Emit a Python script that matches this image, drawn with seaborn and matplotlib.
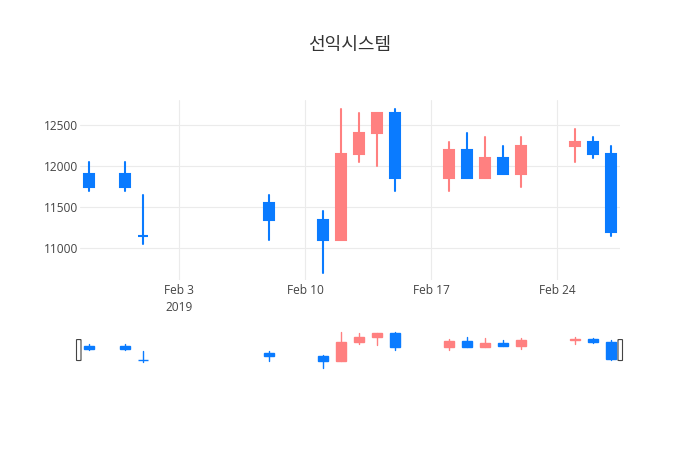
import pandas as pd
import matplotlib
matplotlib.use("Agg")
import matplotlib.pyplot as plt
from matplotlib.patches import FancyBboxPatch
import seaborn as sns

# candlestick data
dates = ["2019-01-29", "2019-01-31", "2019-02-01", "2019-02-08", "2019-02-11",
         "2019-02-12", "2019-02-13", "2019-02-14", "2019-02-15", "2019-02-18",
         "2019-02-19", "2019-02-20", "2019-02-21", "2019-02-22", "2019-02-25",
         "2019-02-26", "2019-02-27"]
opens  = [11900, 11900, 11150, 11550, 11350, 11100, 12150, 12400, 12650, 11850,
          12200, 11850, 12100, 11900, 12250, 12300, 12150]
highs  = [12050, 12050, 11650, 11650, 11450, 12700, 12650, 12650, 12700, 12300,
          12400, 12350, 12250, 12350, 12450, 12350, 12250]
lows   = [11700, 11700, 11050, 11100, 10700, 11100, 12050, 12000, 11700, 11700,
          11850, 11850, 11900, 11750, 12050, 12100, 11150]
closes = [11750, 11750, 11150, 11350, 11100, 12150, 12400, 12650, 11850, 12200,
          11850, 12100, 11900, 12250, 12300, 12150, 11200]

title = "선익시스템"
up_color = "#FF8080"
down_color = "#0A7BFF"

df = pd.DataFrame({"date": pd.to_datetime(dates), "open": opens, "high": highs,
                   "low": lows, "close": closes})
df["dir"] = ["up" if c > o else "down" for o, c in zip(df["open"], df["close"])]

# long form for the wicks
wicks = pd.concat([
    df[["date", "dir"]].assign(price=df["high"]),
    df[["date", "dir"]].assign(price=df["low"]),
])
wicks["uid"] = wicks["date"].astype("int64")

sns.set_theme(style="white")
plt.rcParams["font.family"] = ["Open Sans", "Noto Sans CJK KR", "DejaVu Sans"]

fig = plt.figure(figsize=(7, 4.5), dpi=100)
ax = fig.add_axes([80 / 700, 1 - 280 / 450, 540 / 700, 180 / 450])
ax_rs = fig.add_axes([80 / 700, 1 - 371 / 450, 540 / 700, 41 / 450])
palette = {"up": up_color, "down": down_color}


def draw_candles(a, lw):
    sns.lineplot(data=wicks, x="date", y="price", units="uid", estimator=None,
                 hue="dir", palette=palette, legend=False, linewidth=lw, ax=a,
                 sort=False)
    body_low = df[["open", "close"]].min(axis=1)
    body_h = (df["close"] - df["open"]).abs()
    cols = [palette[d] for d in df["dir"]]
    a.bar(df["date"], body_h, bottom=body_low, width=0.55, color=cols,
          edgecolor=cols, linewidth=lw, zorder=3)


draw_candles(ax, 1.5)
draw_candles(ax_rs, 1.0)

x0 = pd.Timestamp("2019-01-28 12:00")
x1 = pd.Timestamp("2019-02-27 12:00")
for a in (ax, ax_rs):
    a.set_xlim(x0, x1)
    a.set_xlabel("")
    a.set_ylabel("")
    for s in a.spines.values():
        s.set_visible(False)

ax.set_ylim(10615, 12805)
ax.set_yticks([11000, 11500, 12000, 12500])
ticks = pd.to_datetime(["2019-02-03", "2019-02-10", "2019-02-17", "2019-02-24"])
ax.set_xticks(ticks)
ax.set_xticklabels(["Feb 3\n2019", "Feb 10", "Feb 17", "Feb 24"])
ax.grid(True, color="#EBEBEB", linewidth=0.8)
ax.set_axisbelow(True)
ax.tick_params(axis="both", length=0, labelsize=8.6, labelcolor="#444444")
ax.tick_params(axis="x", pad=3)
ax.tick_params(axis="y", pad=1.5)
for lbl in ax.get_xticklabels():
    lbl.set_linespacing(1.35)
    lbl.set_verticalalignment("top")

ax_rs.set_ylim(10540, 12810)
ax_rs.set_xticks([])
ax_rs.set_yticks([])

# range slider handles
for px in (76.5, 618.0):
    h = FancyBboxPatch(((px - 80) / 540, 0.255), 4.5 / 540, 21 / 41,
                       boxstyle="round,pad=0,rounding_size=0.004",
                       transform=ax_rs.transAxes, facecolor="white",
                       edgecolor="#444444", linewidth=0.8, clip_on=False, zorder=5)
    ax_rs.add_patch(h)

fig.text(0.5, 1 - 45 / 450, title, ha="center", va="center", fontsize=13,
         color="#333333", family=["Noto Sans CJK KR", "DejaVu Sans"])

fig.savefig("out.png", dpi=100)
